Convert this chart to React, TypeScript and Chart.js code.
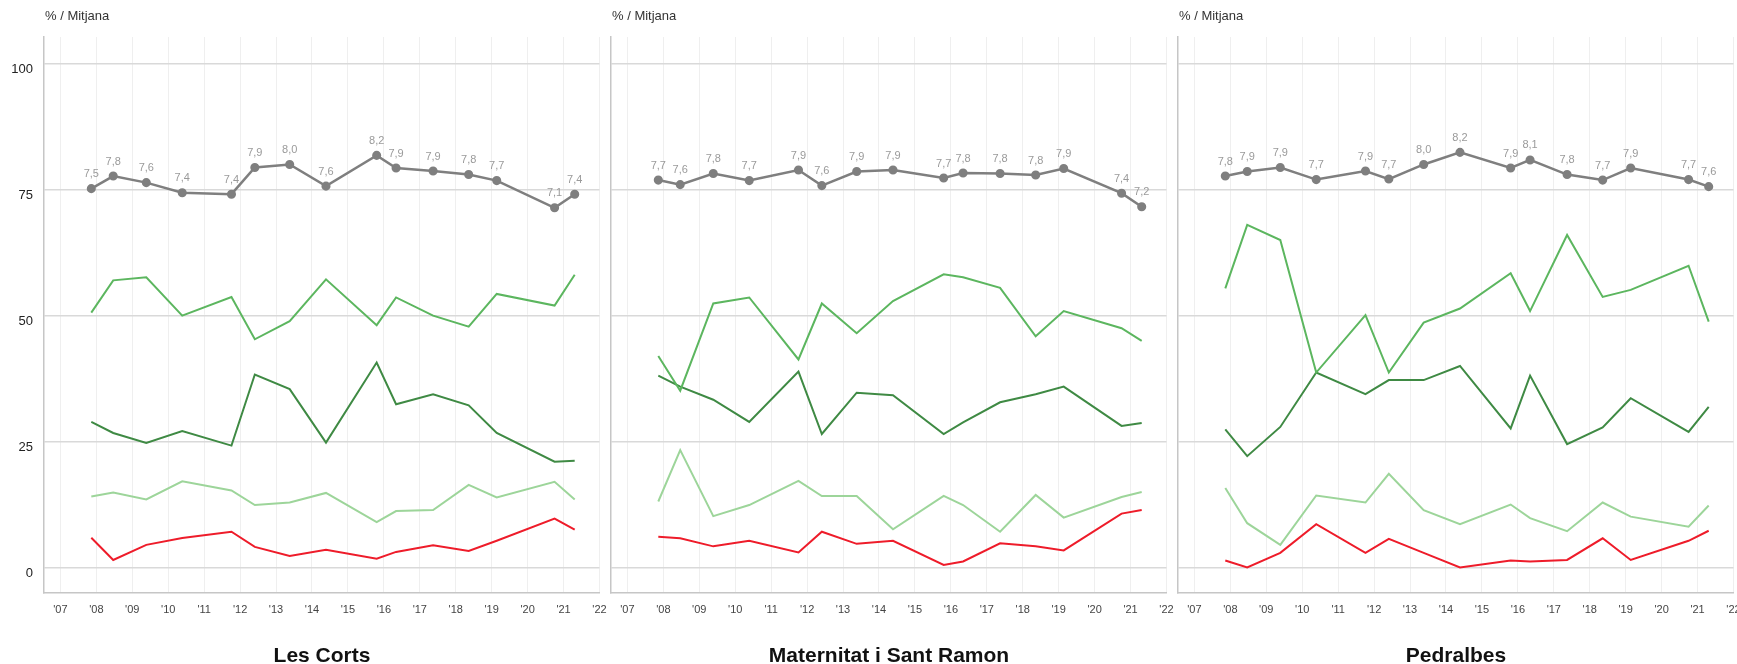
import React, { useEffect, useRef } from 'react';
import { Chart, registerables } from 'chart.js';

Chart.register(...registerables);

// Survey dates (decimal years) shared by all districts
const surveyDates = [2007.86, 2008.47, 2009.39, 2010.39, 2011.76, 2012.41, 2013.38, 2014.39, 2015.8, 2016.34, 2017.37, 2018.36, 2019.14, 2020.75, 2021.31];
const yearTicks = [2007, 2008, 2009, 2010, 2011, 2012, 2013, 2014, 2015, 2016, 2017, 2018, 2019, 2020, 2021, 2022];
const yTicks = [0, 25, 50, 75, 100];
const districtNames = ['Les Corts', 'Maternitat i Sant Ramon', 'Pedralbes'];
const axisTitle = '% / Mitjana';

// Les Corts
const lesCortsMitjana = [75.2, 77.7, 76.4, 74.4, 74.1, 79.4, 80.0, 75.7, 81.8, 79.3, 78.7, 78.0, 76.8, 71.4, 74.1];
const lesCortsVerd = [50.6, 57.0, 57.6, 50.0, 53.7, 45.3, 48.9, 57.2, 48.1, 53.6, 50.0, 47.8, 54.3, 52.0, 58.1];
const lesCortsVerdFosc = [28.9, 26.7, 24.7, 27.1, 24.2, 38.3, 35.4, 24.8, 40.7, 32.4, 34.4, 32.2, 26.7, 21.0, 21.2];
const lesCortsVerdClar = [14.1, 14.9, 13.5, 17.1, 15.3, 12.4, 12.9, 14.8, 9.0, 11.2, 11.4, 16.4, 13.9, 17.0, 13.5];
const lesCortsVermell = [5.9, 1.5, 4.5, 5.85, 7.1, 4.1, 2.3, 3.5, 1.75, 3.1, 4.4, 3.3, 5.3, 9.7, 7.5];

// Maternitat i Sant Ramon
const maternitatMitjana = [76.9, 76.0, 78.2, 76.8, 78.9, 75.8, 78.6, 78.9, 77.3, 78.3, 78.2, 77.9, 79.2, 74.3, 71.6];
const maternitatVerd = [42.0, 35.1, 52.4, 53.6, 41.3, 52.4, 46.5, 52.9, 58.2, 57.6, 55.5, 45.9, 50.9, 47.5, 45.0];
const maternitatVerdFosc = [38.1, 35.9, 33.3, 28.9, 38.9, 26.5, 34.7, 34.2, 26.5, 28.8, 32.8, 34.4, 35.9, 28.1, 28.7];
const maternitatVerdClar = [13.1, 23.3, 10.2, 12.4, 17.2, 14.2, 14.2, 7.6, 14.2, 12.4, 7.1, 14.4, 9.9, 14.0, 15.0];
const maternitatVermell = [6.1, 5.8, 4.2, 5.3, 3.0, 7.1, 4.7, 5.3, 0.5, 1.2, 4.8, 4.2, 3.4, 10.7, 11.4];

// Pedralbes
const pedralbesMitjana = [77.7, 78.6, 79.4, 77.0, 78.7, 77.1, 80.0, 82.4, 79.3, 80.9, 78.0, 76.9, 79.3, 77.0, 75.6];
const pedralbesVerd = [55.4, 68.0, 65.0, 38.7, 50.1, 38.7, 48.6, 51.4, 58.4, 50.9, 66.0, 53.7, 55.1, 59.9, 48.8];
const pedralbesVerdFosc = [27.4, 22.1, 27.9, 38.7, 34.4, 37.2, 37.2, 40.0, 27.6, 38.1, 24.5, 27.8, 33.6, 26.9, 31.9];
const pedralbesVerdClar = [15.8, 8.8, 4.5, 14.3, 12.9, 18.6, 11.4, 8.6, 12.5, 9.8, 7.2, 12.9, 10.1, 8.1, 12.3];
const pedralbesVermell = [1.4, 0.0, 2.9, 8.6, 2.9, 5.7, 2.9, 0.0, 1.4, 1.2, 1.5, 5.8, 1.5, 5.3, 7.3];

const mitjanaSeries = [lesCortsMitjana, maternitatMitjana, pedralbesMitjana];
const verdSeries = [lesCortsVerd, maternitatVerd, pedralbesVerd];
const verdFoscSeries = [lesCortsVerdFosc, maternitatVerdFosc, pedralbesVerdFosc];
const verdClarSeries = [lesCortsVerdClar, maternitatVerdClar, pedralbesVerdClar];
const vermellSeries = [lesCortsVermell, maternitatVermell, pedralbesVermell];

const FONT = '"Liberation Sans", Arial, Helvetica, sans-serif';
Chart.defaults.font.family = FONT;

const CANVAS_W = 618;
const CANVAS_H = 664;
const Y_AXIS_W = 44;
const RIGHT_PAD = 18.5;
const PLOT_BOTTOM = 592.7;
const panelLefts = [0, 567, 1134];

const toPoints = (vals: number[]) => vals.map((v, i) => ({ x: surveyDates[i], y: v }));

const valueLabelPlugin = {
  id: 'valueLabels',
  afterDatasetsDraw(chart: any) {
    const ctx = chart.ctx;
    chart.data.datasets.forEach((ds: any, i: number) => {
      if (!ds.showValueLabels) return;
      const meta = chart.getDatasetMeta(i);
      ctx.save();
      ctx.font = '11px ' + FONT;
      ctx.fillStyle = '#9a9a9a';
      ctx.textAlign = 'center';
      ctx.textBaseline = 'middle';
      meta.data.forEach((pt: any, j: number) => {
        const v = ds.data[j].y;
        ctx.fillText((v / 10).toFixed(1).replace('.', ','), pt.x, pt.y - 14.5);
      });
      ctx.restore();
    });
  },
};

function Panel({ idx }: { idx: number }) {
  const ref = useRef<HTMLCanvasElement>(null);
  const left = panelLefts[idx];

  useEffect(() => {
    if (!ref.current) return;
    const lineDs = (label: string, vals: number[], color: string, width: number) => ({
      label,
      data: toPoints(vals),
      borderColor: color,
      backgroundColor: color,
      borderWidth: width,
      pointRadius: 0,
      tension: 0,
    });
    const chart = new Chart(ref.current, {
      type: 'line',
      data: {
        datasets: [
          {
            label: 'Mitjana',
            data: toPoints(mitjanaSeries[idx]),
            borderColor: '#7f7f7f',
            backgroundColor: '#7f7f7f',
            pointBackgroundColor: '#7f7f7f',
            pointBorderColor: '#7f7f7f',
            borderWidth: 2.5,
            pointRadius: 3.3,
            tension: 0,
            showValueLabels: true,
          } as any,
          lineDs('Sèrie A', verdSeries[idx], '#5cb65f', 2),
          lineDs('Sèrie B', verdFoscSeries[idx], '#3f8a44', 2),
          lineDs('Sèrie C', verdClarSeries[idx], '#9dd59a', 2),
          lineDs('Sèrie D', vermellSeries[idx], '#ee1c2a', 2),
        ],
      },
      options: {
        animation: false,
        responsive: false,
        maintainAspectRatio: false,
        layout: { padding: { top: 37, right: RIGHT_PAD, left: 0, bottom: 0 }, autoPadding: false } as any,
        plugins: {
          legend: { display: false },
          tooltip: { enabled: false },
          title: { display: false },
        },
        scales: {
          x: {
            type: 'linear',
            min: 2006.544,
            max: 2022,
            afterBuildTicks: (s: any) => {
              s.ticks = yearTicks.map((v) => ({ value: v }));
            },
            afterFit: (s: any) => {
              s.height = CANVAS_H - PLOT_BOTTOM;
            },
            ticks: {
              autoSkip: false,
              maxRotation: 0,
              padding: 11,
              color: '#444',
              font: { size: 11, family: FONT },
              callback: (v: any) => "'" + String(v).slice(2),
            },
            grid: { color: '#efefef', lineWidth: 1, drawTicks: false },
            border: { color: '#c6c6c6', width: 1.5 },
          },
          y: {
            type: 'linear',
            min: -5,
            max: 105.3,
            afterBuildTicks: (s: any) => {
              s.ticks = yTicks.map((v) => ({ value: v }));
            },
            afterFit: (s: any) => {
              s.width = Y_AXIS_W;
            },
            ticks: {
              display: idx === 0,
              padding: 11,
              labelOffset: 6,
              color: '#222',
              font: { size: 13, family: FONT },
            },
            grid: { color: '#d9d9d9', lineWidth: 1.5, drawTicks: false },
            border: { color: '#c6c6c6', width: 1.5 },
          },
        },
      },
      plugins: [valueLabelPlugin],
    } as any);
    return () => chart.destroy();
  }, [idx]);

  return (
    <>
      <canvas
        ref={ref}
        width={CANVAS_W}
        height={CANVAS_H}
        style={{ position: 'absolute', left, top: 0, width: CANVAS_W, height: CANVAS_H }}
      />
      <div
        style={{
          position: 'absolute',
          left: left + Y_AXIS_W + 1,
          top: 7,
          fontFamily: FONT,
          fontSize: 13,
          lineHeight: '17px',
          color: '#333',
          whiteSpace: 'nowrap',
        }}
      >
        {axisTitle}
      </div>
      <div
        style={{
          position: 'absolute',
          left: left + Y_AXIS_W,
          width: 556,
          top: 643,
          fontFamily: FONT,
          fontSize: 21,
          fontWeight: 'bold',
          lineHeight: '24px',
          color: '#111',
          textAlign: 'center',
          whiteSpace: 'nowrap',
        }}
      >
        {districtNames[idx]}
      </div>
    </>
  );
}

export default function App() {
  return (
    <div
      style={{
        position: 'absolute',
        left: 0,
        top: 0,
        width: 1737,
        height: 664,
        overflow: 'hidden',
        background: '#fff',
      }}
    >
      {[0, 1, 2].map((i) => (
        <Panel key={i} idx={i} />
      ))}
    </div>
  );
}
